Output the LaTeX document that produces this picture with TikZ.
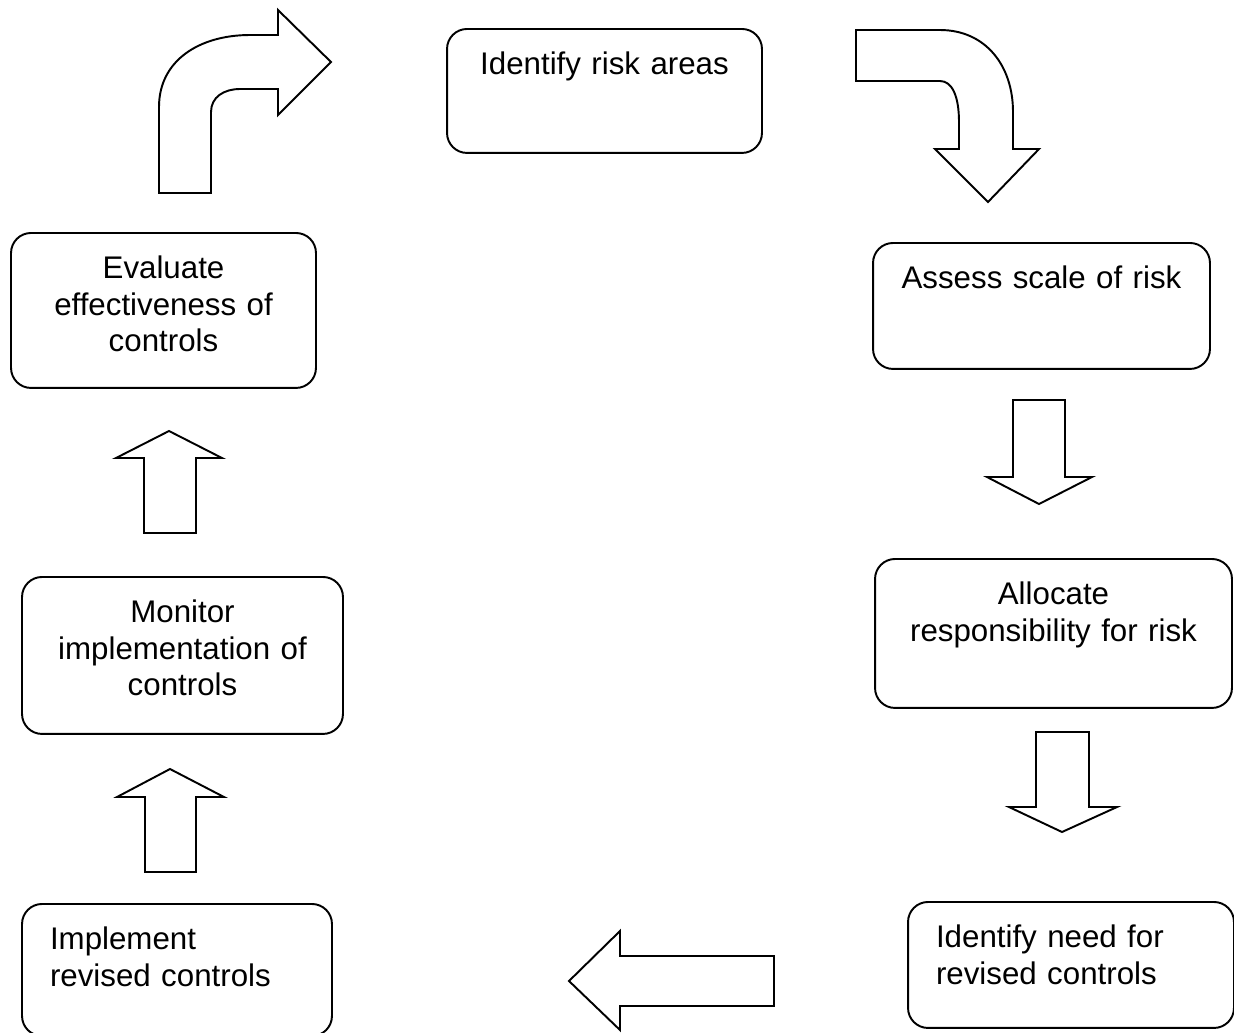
\documentclass[tikz,border=0pt]{standalone}
\usepackage{fontspec}
\setmainfont{Liberation Sans}
\usetikzlibrary{positioning}

\begin{document}
\begin{tikzpicture}[
			x=0.02cm, y=-0.02cm,
			every node/.style={
				draw,
				rounded corners=0.4cm,
				line width=1.1pt,
				anchor=north,
				inner sep=0pt,
				text height=0.91cm,
				font=\fontsize{17.8}{20.8}\selectfont
			},
			leftbox/.style={align=left,inner xsep=0.56cm},
			blockarrow/.style={draw,line width=1.1pt,line join=miter}
			]
			\useasboundingbox (0,0) rectangle (1234,1032);
			
			\node[align=center,text width=6.30cm,text depth=1.57cm] (identify) at (604.5,28) {Identify risk areas};
			\node[align=center,text width=6.74cm,text depth=1.61cm] (assess) at (1041.5,242) {Assess scale of risk};
			\node[align=center,text width=7.14cm,text depth=2.07cm] (allocate) at (1053.5,558) {Allocate\\responsibility for risk};
			\node[leftbox,text width=5.40cm,text depth=1.61cm] (need) at (1071,901) {Identify need for\\revised controls};
			\node[leftbox,text width=5.08cm,text depth=1.73cm] (implement) at (177,903) {Implement\\revised controls};
			\node[align=center,text width=6.42cm,text depth=2.23cm] (monitor) at (182.5,576) {Monitor\\implementation of\\controls};
			\node[align=center,text width=6.10cm,text depth=2.19cm] (evaluate) at (163.5,232) {Evaluate\\effectiveness of\\controls};
			
			\draw[blockarrow] (159,193) -- (159,107) .. controls (159,60) and (200,35) .. (250,35) -- (278,35) -- (278,10) -- (331,62) -- (278,115) -- (278,89) -- (240,89) .. controls (224,89) and (211,97) .. (211,112) -- (211,193) -- cycle;
			\draw[blockarrow] (856,30) -- (940,30) .. controls (985,30) and (1013,65) .. (1013,112) -- (1013,149) -- (1039,149) -- (988,202) -- (935,149) -- (959,149) -- (959,122) .. controls (959,96) and (952,81) .. (940,81) -- (856,81) -- cycle;
			
			\draw[blockarrow] (1013,400) -- (1065,400) -- (1065,477) -- (1092,477) -- (1039,504) -- (987,477) -- (1013,477) -- cycle;
			\draw[blockarrow] (1036,732) -- (1089,732) -- (1089,807) -- (1117,807) -- (1062,832) -- (1009,807) -- (1036,807) -- cycle;
			\draw[blockarrow] (774,956) -- (774,1006) -- (620,1006) -- (620,1030) -- (569,981) -- (620,931) -- (620,956) -- cycle;
			\draw[blockarrow] (145,872) -- (145,797) -- (117,797) -- (170,769) -- (224,797) -- (196,797) -- (196,872) -- cycle;
			\draw[blockarrow] (144,533) -- (144,458) -- (116,458) -- (169,431) -- (222,458) -- (196,458) -- (196,533) -- cycle;
			
		\end{tikzpicture}
\end{document}
